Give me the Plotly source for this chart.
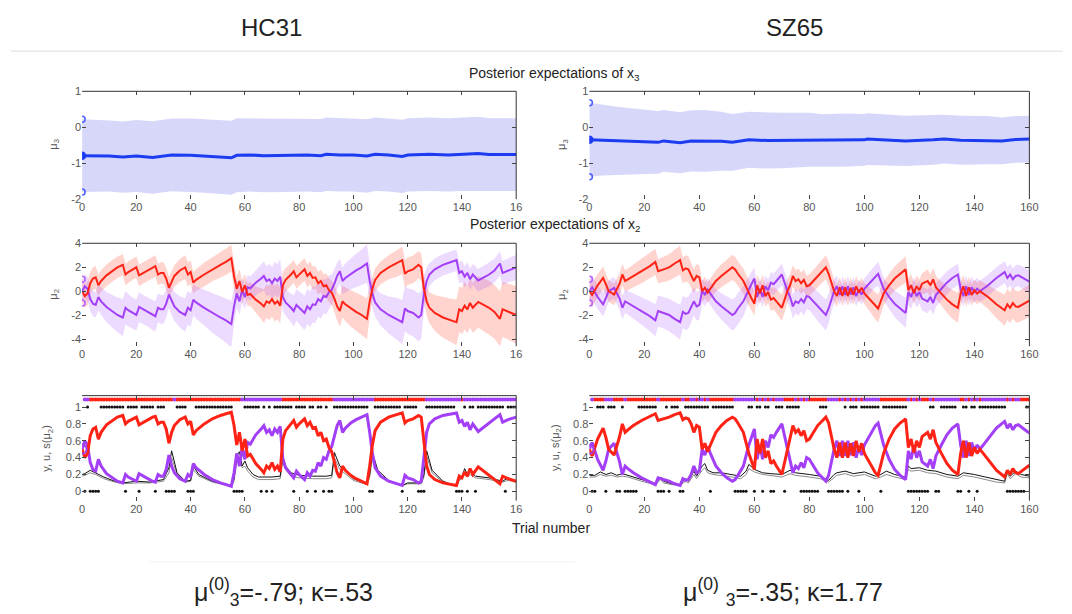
import plotly.graph_objects as go

# ---------------- data ----------------
trials = list(range(1, 161))
x_tickvals = [0, 20, 40, 60, 80, 100, 120, 140, 160]
x_ticktext_hc = ['0', '20', '40', '60', '80', '100', '120', '140', '16']
x_ticktext_sz = ['0', '20', '40', '60', '80', '100', '120', '140', '160']

# ---- HC31: level 3 ----
hc_mu3_t = [0, 5, 10, 15, 20, 26, 30, 33, 40, 45, 50, 55, 57, 62, 67, 75, 83, 88, 90, 95,
            100, 105, 108, 113, 118, 120, 128, 135, 140, 146, 150, 155, 160]
hc_mu3 = [-0.79, -0.79, -0.80, -0.83, -0.80, -0.84, -0.80, -0.77, -0.78, -0.80,
          -0.82, -0.85, -0.78, -0.77, -0.79, -0.78, -0.77, -0.79, -0.75, -0.77,
          -0.77, -0.80, -0.75, -0.77, -0.81, -0.77, -0.75, -0.77, -0.75, -0.73,
          -0.76, -0.76, -0.76]
hc_sd3 = [1.01, 1.00, 0.99, 0.99, 1.00, 1.01, 1.01, 1.01, 1.02, 1.02,
          1.02, 1.03, 1.03, 1.02, 1.02, 1.02, 1.02, 1.02, 1.02, 1.02,
          1.02, 1.02, 1.02, 1.02, 1.02, 1.02, 1.02, 1.02, 1.02, 1.02,
          1.01, 1.01, 1.01]

# ---- HC31: level 2 and s(mu2) ----
hc_t = [0, 1, 2, 3, 4, 5, 6, 7, 9, 11,
        13, 15, 16, 17, 19, 20, 21, 22, 24, 26,
        27, 28, 29, 30, 31, 32, 33, 34, 36, 38,
        39, 40, 41, 42, 45, 48, 51, 53, 55, 56,
        57, 58, 59, 60, 61, 62, 64, 66, 67, 68,
        69, 70, 71, 72, 73, 74, 75, 77, 78, 79,
        80, 82, 83, 84, 85, 86, 87, 88, 89, 90,
        91, 92, 93, 94, 95, 96, 97, 99, 101, 103,
        105, 106, 107, 108, 110, 113, 116, 118, 119, 120,
        122, 124, 125, 126, 127, 128, 130, 133, 136, 138,
        139, 140, 141, 142, 143, 144, 146, 148, 150, 152,
        154, 155, 157, 160]
hc_s_red = [.50, .40, .45, .66, .74, .76, .62, .70, .79, .84,
            .88, .90, .80, .83, .87, .88, .79, .81, .85, .88,
            .89, .80, .82, .82, .74, .57, .70, .78, .85, .88,
            .80, .83, .67, .72, .80, .86, .90, .92, .94, .78,
            .55, .70, .48, .62, .42, .44, .33, .26, .22, .30,
            .27, .34, .26, .30, .23, .62, .72, .80, .84, .76,
            .80, .86, .78, .82, .75, .76, .66, .70, .60, .62,
            .52, .47, .35, .22, .16, .30, .25, .19, .15, .12,
            .09, .30, .55, .72, .82, .88, .91, .93, .81, .84,
            .86, .90, .88, .55, .30, .20, .14, .10, .08, .07,
            .18, .16, .23, .18, .27, .20, .29, .24, .20, .15,
            .09, .18, .15, .12]
hc_s_pur = [.50, .60, .55, .34, .26, .24, .38, .30, .21, .16,
            .12, .10, .20, .17, .13, .12, .21, .19, .15, .12,
            .11, .20, .18, .18, .26, .43, .30, .22, .15, .12,
            .20, .17, .33, .28, .20, .14, .10, .08, .06, .22,
            .45, .30, .52, .38, .58, .56, .67, .74, .78, .70,
            .73, .66, .74, .70, .77, .38, .28, .20, .16, .24,
            .20, .14, .22, .18, .25, .24, .34, .30, .40, .38,
            .48, .53, .65, .78, .84, .70, .75, .81, .85, .88,
            .91, .70, .45, .28, .18, .12, .09, .07, .19, .16,
            .14, .10, .12, .45, .70, .80, .86, .90, .92, .93,
            .82, .84, .77, .82, .73, .80, .71, .76, .80, .85,
            .91, .82, .85, .88]
hc_mu_red = [0, -.41, -.20, .66, 1.05, 1.15, .49, .85, 1.32, 1.66,
             1.99, 2.20, 1.39, 1.59, 1.90, 1.99, 1.32, 1.45, 1.73, 1.99,
             2.09, 1.39, 1.52, 1.52, 1.05, .28, .85, 1.27, 1.73, 1.99,
             1.39, 1.59, .71, .94, 1.39, 1.82, 2.20, 2.44, 2.75, 1.27,
             .20, .85, -.08, .49, -.32, -.24, -.71, -1.05, -1.27, -.85,
             -.99, -.66, -1.05, -.85, -1.21, .49, .94, 1.39, 1.66, 1.15,
             1.39, 1.82, 1.27, 1.52, 1.10, 1.15, .66, .85, .41, .49,
             .08, -.12, -.62, -1.27, -1.66, -.85, -1.10, -1.45, -1.73, -1.99,
             -2.31, -.85, .20, .94, 1.52, 1.99, 2.31, 2.59, 1.45, 1.66,
             1.82, 2.20, 1.99, .20, -.85, -1.39, -1.82, -2.20, -2.44, -2.59,
             -1.52, -1.66, -1.21, -1.52, -.99, -1.39, -.90, -1.15, -1.39, -1.73,
             -2.31, -1.52, -1.73, -1.99]
hc_mu_pur = [0, .41, .20, -.66, -1.05, -1.15, -.49, -.85, -1.32, -1.66,
             -1.99, -2.20, -1.39, -1.59, -1.90, -1.99, -1.32, -1.45, -1.73, -1.99,
             -2.09, -1.39, -1.52, -1.52, -1.05, -.28, -.85, -1.27, -1.73, -1.99,
             -1.39, -1.59, -.71, -.94, -1.39, -1.82, -2.20, -2.44, -2.75, -1.27,
             -.20, -.85, .08, -.49, .32, .24, .71, 1.05, 1.27, .85,
             .99, .66, 1.05, .85, 1.21, -.49, -.94, -1.39, -1.66, -1.15,
             -1.39, -1.82, -1.27, -1.52, -1.10, -1.15, -.66, -.85, -.41, -.49,
             -.08, .12, .62, 1.27, 1.66, .85, 1.10, 1.45, 1.73, 1.99,
             2.31, .85, -.20, -.94, -1.52, -1.99, -2.31, -2.59, -1.45, -1.66,
             -1.82, -2.20, -1.99, -.20, .85, 1.39, 1.82, 2.20, 2.44, 2.59,
             1.52, 1.66, 1.21, 1.52, .99, 1.39, .90, 1.15, 1.39, 1.73,
             2.31, 1.52, 1.73, 1.99]
hc_sd_red = [1.0, 1.0, 1.0, .95, .95, .95, .9, .9, .9, .9,
             .9, .9, .9, .9, .9, .9, .9, .9, .9, .9,
             .9, .9, .9, .9, .9, .9, .9, .9, .95, 1.0,
             1.0, 1.0, .9, .9, 1.0, 1.0, 1.05, 1.1, 1.1, 1.1,
             1.0, 1.0, .95, .95, .95, 1.0, 1.1, 1.3, 1.4, 1.4,
             1.45, 1.45, 1.5, 1.5, 1.5, 1.1, 1.0, .95, .95, .95,
             .95, .95, .95, .95, .95, .95, .95, .95, 1.0, 1.0,
             1.0, 1.0, 1.1, 1.2, 1.3, 1.35, 1.4, 1.5, 1.6, 1.65,
             1.7, 1.3, 1.0, .95, .95, 1.0, 1.1, 1.15, 1.15, 1.15,
             1.15, 1.15, 1.15, 1.1, 1.2, 1.3, 1.5, 1.7, 1.8, 1.9,
             1.9, 1.95, 2.0, 2.0, 2.05, 2.1, 2.15, 2.2, 2.25, 2.25,
             2.3, 2.3, 2.35, 2.4]
hc_sd_pur = [1.0, 1.0, 1.0, 1.0, 1.05, 1.05, 1.1, 1.15, 1.25, 1.35,
             1.45, 1.55, 1.4, 1.35, 1.3, 1.3, 1.25, 1.2, 1.2, 1.25,
             1.25, 1.2, 1.2, 1.2, 1.2, 1.1, 1.15, 1.2, 1.3, 1.4,
             1.4, 1.4, 1.3, 1.35, 1.5, 1.65, 1.75, 1.85, 1.95, 1.5,
             1.2, 1.1, 1.0, 1.0, 1.0, 1.0, 1.05, 1.15, 1.2, 1.25,
             1.3, 1.35, 1.4, 1.4, 1.45, 1.2, 1.1, 1.2, 1.3, 1.3,
             1.35, 1.45, 1.45, 1.5, 1.5, 1.5, 1.45, 1.45, 1.45, 1.45,
             1.4, 1.3, 1.2, 1.1, 1.05, 1.1, 1.2, 1.3, 1.4, 1.5,
             1.6, 1.4, 1.2, 1.2, 1.35, 1.55, 1.75, 1.85, 1.9, 1.9,
             1.95, 2.0, 2.0, 1.5, 1.1, .95, .9, .9, .9, .9,
             .9, .9, .9, .9, .9, .9, .95, .95, 1.0, 1.0,
             1.0, 1.0, 1.0, 1.05]

# ---- HC31: learning-rate traces (black and grey) ----
hc_lr_t = [0, 1, 3, 5, 8, 12, 15, 20, 25, 30,
           32, 33, 35, 38, 40, 41, 43, 48, 55, 56,
           57, 58, 59, 60, 61, 63, 65, 70, 73, 74,
           75, 77, 80, 85, 90, 92, 93, 95, 100, 105,
           106, 107, 109, 113, 118, 120, 125, 126, 127, 129,
           133, 138, 139, 140, 141, 142, 143, 145, 150, 155,
           157, 160]
hc_lr_black = [.20, .21, .25, .22, .17, .12, .10, .12, .11, .14,
               .28, .48, .22, .12, .13, .30, .20, .12, .06, .15,
               .42, .47, .30, .36, .28, .20, .17, .17, .18, .42,
               .30, .22, .19, .18, .18, .19, .46, .30, .15, .09,
               .20, .46, .25, .13, .07, .10, .10, .20, .48, .25,
               .12, .06, .15, .17, .27, .20, .24, .18, .16, .12,
               .16, .12]
hc_lr_grey = [.18, .19, .22, .20, .15, .11, .09, .10, .10, .12,
              .22, .40, .20, .11, .12, .26, .18, .11, .06, .12,
              .34, .40, .28, .30, .24, .17, .14, .14, .15, .36,
              .26, .18, .16, .15, .15, .16, .40, .26, .13, .08,
              .17, .40, .22, .12, .07, .09, .09, .17, .42, .22,
              .11, .06, .13, .15, .23, .17, .20, .16, .14, .11,
              .13, .11]

# ---- HC31: inputs (1 = red, 0 = purple) and responses ----
hc_u = [0, 0, 1, 1, 1, 1, 1, 1, 1, 1, 1, 1, 1, 1, 1, 1, 1, 1, 1, 1,
        1, 1, 1, 1, 1, 1, 1, 1, 1, 1, 1, 1, 1, 0, 1, 1, 1, 1, 1, 1,
        1, 1, 1, 1, 1, 1, 1, 1, 1, 1, 1, 1, 1, 1, 1, 1, 1, 1, 0, 0,
        0, 0, 0, 0, 0, 0, 0, 0, 0, 0, 0, 0, 0, 1, 1, 1, 1, 1, 1, 1,
        1, 1, 1, 1, 1, 1, 1, 1, 1, 1, 1, 1, 0, 0, 0, 0, 0, 0, 0, 0,
        0, 0, 0, 0, 0, 0, 0, 1, 1, 1, 1, 1, 1, 1, 1, 1, 1, 1, 1, 1,
        1, 1, 1, 1, 1, 1, 0, 0, 0, 0, 0, 0, 0, 0, 0, 0, 0, 0, 0, 1,
        0, 0, 0, 0, 0, 0, 0, 0, 0, 0, 0, 0, 0, 0, 0, 0, 0, 0, 0, 0]
hc_y = [0, 1, 0, 0, 0, 0, 1, 1, 1, 1, 1, 1, 1, 1, 1, 0, 1, 1, 1, 1,
        0, 1, 1, 1, 1, 1, 0, 1, 1, 1, 0, 0, 0, 0, 1, 1, 1, 1, 0, 0,
        0, 1, 1, 1, 1, 1, 1, 1, 1, 1, 1, 1, 1, 1, 1, 0, 0, 0, 0, 1,
        1, 1, 1, 1, 1, 0, 1, 0, 1, 0, 1, 1, 1, 1, 1, 1, 1, 0, 1, 1,
        1, 1, 0, 1, 1, 0, 1, 1, 0, 1, 0, 0, 1, 1, 1, 1, 1, 1, 1, 1,
        1, 1, 1, 1, 1, 0, 0, 1, 1, 1, 1, 1, 1, 1, 1, 1, 1, 0, 1, 1,
        1, 1, 1, 0, 0, 0, 1, 1, 1, 1, 1, 1, 1, 1, 1, 1, 1, 0, 0, 0,
        1, 0, 1, 1, 0, 1, 1, 1, 1, 1, 1, 1, 1, 1, 1, 0, 1, 1, 1, 1]

# ---- SZ65: level 3 ----
sz_mu3_t = [0, 5, 10, 15, 20, 25, 27, 33, 37, 42, 48, 52, 58, 65, 70, 80, 85, 92, 100, 101,
            108, 115, 125, 129, 135, 140, 145, 150, 155, 160]
sz_mu3 = [-0.35, -0.36, -0.38, -0.39, -0.41, -0.42, -0.38, -0.43, -0.38, -0.38,
          -0.39, -0.42, -0.35, -0.37, -0.37, -0.35, -0.37, -0.36, -0.35, -0.33,
          -0.35, -0.38, -0.35, -0.33, -0.36, -0.36, -0.36, -0.38, -0.34, -0.33]
sz_sd3 = [1.03, 0.98, 0.95, 0.92, 0.89, 0.87, 0.86, 0.85, 0.85, 0.86,
          0.82, 0.79, 0.78, 0.78, 0.77, 0.75, 0.73, 0.74, 0.72, 0.72,
          0.71, 0.70, 0.69, 0.68, 0.68, 0.68, 0.67, 0.65, 0.65, 0.65]

# ---- SZ65: level 2 and s(mu2) ----
sz_t = [0, 1, 3, 5, 6, 7, 9, 11, 12, 13,
        14, 16, 19, 22, 24, 25, 27, 29, 31, 33,
        34, 35, 36, 37, 38, 39, 40, 41, 42, 43,
        44, 46, 48, 50, 52, 53, 54, 56, 58, 59,
        60, 61, 62, 63, 64, 65, 66, 67, 68, 70,
        72, 73, 74, 75, 76, 77, 78, 79, 80, 83,
        86, 87, 88, 89, 90, 91, 92, 93, 94, 95,
        96, 97, 98, 99, 100, 102, 104, 105, 107, 109,
        111, 113, 115, 116, 117, 118, 119, 120, 121, 123,
        124, 125, 126, 128, 130, 132, 134, 135, 136, 137,
        138, 139, 140, 141, 142, 143, 145, 148, 151, 152,
        153, 154, 155, 156, 158, 160]
sz_s_red = [.50, .42, .62, .75, .64, .50, .43, .65, .80, .70,
            .73, .78, .84, .89, .92, .84, .86, .88, .91, .93,
            .85, .87, .86, .80, .70, .78, .76, .50, .57, .47,
            .55, .70, .78, .84, .88, .86, .81, .70, .45, .35,
            .26, .62, .45, .62, .40, .48, .33, .36, .30, .20,
            .50, .62, .78, .70, .73, .66, .72, .60, .62, .78,
            .88, .81, .65, .50, .40, .58, .40, .58, .40, .57,
            .42, .60, .47, .57, .45, .33, .22, .19, .45, .62,
            .74, .81, .86, .52, .62, .46, .60, .52, .65, .70,
            .62, .73, .58, .45, .33, .25, .20, .45, .60, .40,
            .58, .42, .52, .45, .50, .46, .38, .25, .17, .25,
            .20, .27, .22, .21, .26, .31]
sz_s_pur = [.50, .58, .38, .25, .36, .50, .57, .35, .20, .30,
            .27, .22, .16, .11, .08, .16, .14, .12, .09, .07,
            .15, .13, .14, .20, .30, .22, .24, .50, .43, .53,
            .45, .30, .22, .16, .12, .14, .19, .30, .55, .65,
            .74, .38, .55, .38, .60, .52, .67, .64, .70, .80,
            .50, .38, .22, .30, .27, .34, .28, .40, .38, .22,
            .12, .19, .35, .50, .60, .42, .60, .42, .60, .43,
            .58, .40, .53, .43, .55, .67, .78, .81, .55, .38,
            .26, .19, .14, .48, .38, .54, .40, .48, .35, .30,
            .38, .27, .42, .55, .67, .75, .80, .55, .40, .60,
            .42, .58, .48, .55, .50, .54, .62, .75, .83, .75,
            .80, .73, .78, .79, .74, .69]
sz_mu_red = [0, -.32, .49, 1.10, .58, 0, -.28, .62, 1.39, .85,
             .99, 1.27, 1.66, 2.09, 2.44, 1.66, 1.82, 1.99, 2.31, 2.59,
             1.73, 1.90, 1.82, 1.39, .85, 1.27, 1.15, 0, .28, -.12,
             .20, .85, 1.27, 1.66, 1.99, 1.82, 1.45, .85, -.20, -.62,
             -1.05, .49, -.20, .49, -.41, -.08, -.71, -.58, -.85, -1.39,
             0, .49, 1.27, .85, .99, .66, .94, .41, .49, 1.27,
             1.99, 1.45, .62, 0, -.41, .32, -.41, .32, -.41, .28,
             -.32, .41, -.12, .28, -.20, -.71, -1.27, -1.45, -.20, .49,
             1.05, 1.45, 1.82, .08, .49, -.16, .41, .08, .62, .85,
             .49, .99, .32, -.20, -.71, -1.10, -1.39, -.20, .41, -.41,
             .32, -.32, .08, -.20, 0, -.16, -.49, -1.10, -1.59, -1.10,
             -1.39, -.99, -1.27, -1.32, -1.05, -.80]
sz_mu_pur = [0, .32, -.49, -1.10, -.58, 0, .28, -.62, -1.39, -.85,
             -.99, -1.27, -1.66, -2.09, -2.44, -1.66, -1.82, -1.99, -2.31, -2.59,
             -1.73, -1.90, -1.82, -1.39, -.85, -1.27, -1.15, 0, -.28, .12,
             -.20, -.85, -1.27, -1.66, -1.99, -1.82, -1.45, -.85, .20, .62,
             1.05, -.49, .20, -.49, .41, .08, .71, .58, .85, 1.39,
             0, -.49, -1.27, -.85, -.99, -.66, -.94, -.41, -.49, -1.27,
             -1.99, -1.45, -.62, 0, .41, -.32, .41, -.32, .41, -.28,
             .32, -.41, .12, -.28, .20, .71, 1.27, 1.45, .20, -.49,
             -1.05, -1.45, -1.82, -.08, -.49, .16, -.41, -.08, -.62, -.85,
             -.49, -.99, -.32, .20, .71, 1.10, 1.39, .20, -.41, .41,
             -.32, .32, -.08, .20, 0, .16, .49, 1.10, 1.59, 1.10,
             1.39, .99, 1.27, 1.32, 1.05, .80]
sz_sd_red = [1.0, 1.0, .95, .95, .9, .9, .9, .9, .9, .9,
             .9, .95, 1.0, 1.05, 1.1, 1.0, 1.05, 1.1, 1.15, 1.2,
             1.1, 1.1, 1.1, 1.05, 1.0, 1.0, 1.0, .9, .9, .85,
             .85, .9, .95, 1.0, 1.05, 1.05, 1.05, 1.05, 1.05, 1.05,
             1.0, .9, .9, .9, .9, .9, .95, .95, 1.0, 1.1,
             1.0, .95, .9, .9, .9, .9, .9, .9, .9, .95,
             1.0, 1.0, 1.0, .95, .9, .85, .85, .85, .85, .85,
             .85, .85, .85, .85, .9, 1.0, 1.1, 1.15, 1.0, .95,
             1.0, 1.05, 1.1, 1.0, .95, .9, .9, .9, .9, .95,
             .95, .95, .95, 1.0, 1.1, 1.2, 1.25, 1.0, .95, .9,
             .9, .9, .9, .9, .9, .9, 1.0, 1.15, 1.3, 1.3,
             1.3, 1.3, 1.3, 1.3, 1.35, 1.35]
sz_sd_pur = [1.0, 1.0, 1.0, 1.0, .95, .9, .9, .95, 1.0, .95,
             1.0, 1.05, 1.15, 1.25, 1.35, 1.3, 1.3, 1.35, 1.4, 1.45,
             1.35, 1.35, 1.35, 1.3, 1.2, 1.2, 1.2, 1.0, 1.0, .95,
             .95, 1.0, 1.1, 1.2, 1.3, 1.3, 1.3, 1.25, 1.1, 1.0,
             .95, .9, .9, .9, .9, .9, .9, .9, .9, .9,
             .9, .95, 1.0, 1.0, 1.05, 1.05, 1.1, 1.1, 1.1, 1.2,
             1.3, 1.25, 1.1, 1.0, .9, .85, .85, .85, .85, .85,
             .85, .85, .85, .85, .85, .9, .95, 1.0, .95, 1.0,
             1.1, 1.2, 1.25, 1.1, 1.0, .95, .95, .95, 1.0, 1.0,
             1.0, 1.0, 1.0, .95, .95, .9, .9, .9, .9, .9,
             .9, .9, .9, .9, .9, .9, .9, .9, .9, .9,
             .9, .9, .9, .9, .9, .95]

# ---- SZ65: learning-rate traces ----
sz_lr_t = [0, 2, 4, 6, 8, 10, 12, 14, 16, 20,
           24, 26, 27, 30, 33, 35, 36, 38, 39, 41,
           42, 43, 45, 48, 52, 55, 57, 58, 60, 63,
           66, 70, 73, 75, 80, 84, 87, 89, 90, 93,
           96, 100, 104, 106, 108, 111, 115, 116, 117, 120,
           123, 126, 130, 134, 136, 140, 144, 148, 151, 152,
           153, 155, 157, 160]
sz_lr_black = [.19, .19, .23, .20, .22, .19, .21, .19, .17, .13,
               .09, .17, .12, .09, .08, .15, .12, .24, .18, .30,
               .33, .25, .22, .22, .20, .18, .24, .32, .26, .22,
               .21, .20, .25, .22, .20, .18, .13, .20, .22, .24,
               .21, .23, .18, .20, .24, .20, .17, .30, .27, .28,
               .25, .24, .20, .18, .22, .20, .17, .14, .12, .25,
               .18, .24, .20, .18]
sz_lr_grey = [.17, .17, .20, .18, .19, .17, .18, .17, .15, .11,
              .08, .14, .10, .08, .07, .12, .10, .20, .15, .25,
              .28, .22, .20, .19, .17, .15, .20, .27, .23, .20,
              .19, .17, .21, .19, .17, .15, .11, .17, .19, .21,
              .18, .20, .15, .17, .20, .17, .14, .26, .24, .25,
              .22, .21, .17, .15, .19, .17, .14, .11, .10, .21,
              .15, .21, .17, .16]

# ---- SZ65: inputs and responses ----
sz_u = [0, 1, 1, 1, 1, 0, 0, 0, 1, 1, 1, 1, 0, 1, 1, 1, 1, 1, 1, 1,
        1, 1, 1, 1, 0, 1, 1, 1, 1, 1, 1, 1, 1, 0, 1, 1, 0, 0, 1, 0,
        0, 1, 0, 1, 1, 1, 1, 1, 1, 1, 1, 1, 0, 0, 0, 0, 0, 0, 0, 0,
        1, 0, 1, 0, 1, 0, 1, 0, 0, 0, 1, 1, 1, 1, 0, 1, 0, 1, 0, 1,
        1, 1, 1, 1, 1, 1, 0, 0, 0, 0, 1, 0, 1, 0, 1, 0, 1, 0, 1, 0,
        0, 0, 0, 0, 0, 1, 1, 1, 1, 1, 1, 1, 1, 1, 1, 0, 1, 0, 1, 0,
        1, 1, 1, 0, 1, 0, 0, 0, 0, 0, 0, 0, 0, 0, 1, 1, 0, 1, 0, 1,
        0, 1, 0, 0, 0, 0, 0, 0, 0, 0, 0, 1, 0, 1, 0, 0, 1, 1, 1, 1]
sz_y = [0, 0, 1, 1, 1, 0, 1, 1, 1, 0, 0, 1, 0, 0, 0, 0, 0, 1, 1, 1,
        1, 1, 1, 1, 0, 0, 0, 1, 0, 1, 1, 1, 0, 0, 1, 1, 1, 1, 1, 1,
        1, 1, 1, 0, 1, 1, 1, 1, 1, 1, 1, 1, 0, 0, 0, 0, 0, 1, 1, 0,
        1, 1, 0, 1, 1, 0, 0, 1, 1, 1, 0, 1, 1, 1, 1, 1, 0, 0, 0, 0,
        0, 0, 0, 1, 1, 1, 0, 0, 0, 0, 0, 0, 1, 0, 1, 1, 1, 0, 1, 1,
        1, 1, 1, 1, 1, 0, 1, 1, 1, 1, 1, 1, 1, 1, 1, 0, 0, 0, 0, 0,
        0, 0, 0, 1, 1, 0, 0, 1, 1, 1, 1, 1, 1, 0, 0, 1, 1, 0, 1, 1,
        0, 1, 1, 1, 1, 1, 1, 1, 1, 1, 1, 0, 0, 0, 0, 0, 0, 0, 1, 1]

# ---------------- styling ----------------
W, H = 1072, 614
FONT = "Liberation Sans, Arial, Helvetica, sans-serif"
RED = "#ff2316"
PURPLE = "#a23ff7"
BLUE = "#1d3cf2"
RED_BAND = "rgba(255, 70, 50, 0.24)"
PUR_BAND = "rgba(170, 80, 255, 0.21)"
BLUE_BAND = "#d7d7fa"
TICK_COLOR = "#555555"


def xd(a, b):
    return [a / W, b / W]


def yd(top, bottom):
    return [1 - bottom / H, 1 - top / H]


col_dom = [xd(80, 519), xd(593, 1038)]
row_dom = [yd(87, 197), yd(242, 347), yd(397.4, 504.5)]
y_ranges = [[-2, 1], [-4.6, 4], [-0.11, 1.135]]
y_tickvals = [[-2, -1, 0, 1], [-4, -2, 0, 2, 4], [0, 0.2, 0.4, 0.6, 0.8, 1]]
y_ticktext = [['-2', '-1', '0', '1'], ['-4', '-2', '0', '2', '4'],
              ['0', '0.2', '0.4', '0.6', '0.8', '1']]

fig = go.Figure()
layout = dict(
    width=W, height=H, margin=dict(l=0, r=0, t=0, b=0),
    paper_bgcolor="white", plot_bgcolor="white", showlegend=False,
    font=dict(family=FONT, color="#333", size=11),
)
shapes = []


def ax_names(col, row):
    idx = col * 3 + row + 1
    return ("x" if idx == 1 else f"x{idx}"), ("y" if idx == 1 else f"y{idx}"), idx


for col in range(2):
    for row in range(3):
        xn, yn, idx = ax_names(col, row)
        suffix = "" if idx == 1 else str(idx)
        layout["xaxis" + suffix] = dict(
            domain=col_dom[col], anchor=yn, range=[0, 160],
            tickvals=x_tickvals,
            ticktext=x_ticktext_hc if col == 0 else x_ticktext_sz,
            ticks="inside", ticklen=4, tickcolor="#444", mirror="ticks",
            showline=False, zeroline=False, showgrid=False,
            tickfont=dict(size=11, color=TICK_COLOR, family=FONT),
        )
        layout["yaxis" + suffix] = dict(
            domain=row_dom[row], anchor=xn, range=y_ranges[row],
            tickvals=y_tickvals[row], ticktext=y_ticktext[row],
            ticks="inside", ticklen=4, tickcolor="#444", mirror="ticks",
            showline=False, zeroline=False, showgrid=False,
            tickfont=dict(size=11, color=TICK_COLOR, family=FONT),
        )
        # top and right borders of the box
        shapes.append(dict(type="line", xref=f"{xn} domain", yref=f"{yn} domain",
                           x0=0, x1=1, y0=1, y1=1, line=dict(color="#333", width=1)))
        shapes.append(dict(type="line", xref=f"{xn} domain", yref=f"{yn} domain",
                           x0=1, x1=1, y0=0, y1=1, line=dict(color="#333", width=1)))


def band(xn, yn, t, mu, sd, color):
    upper = [m + s for m, s in zip(mu, sd)]
    lower = [m - s for m, s in zip(mu, sd)]
    fig.add_trace(go.Scatter(
        x=list(t) + list(t)[::-1], y=upper + lower[::-1], xaxis=xn, yaxis=yn,
        fill="toself", fillcolor=color, line=dict(width=0), mode="lines",
        hoverinfo="skip"))


def line(xn, yn, t, v, color, width):
    fig.add_trace(go.Scatter(x=t, y=v, xaxis=xn, yaxis=yn, mode="lines",
                             line=dict(color=color, width=width), hoverinfo="skip"))


def marker(xn, yn, xs, ys, color, size, filled=False, lw=1.5):
    fig.add_trace(go.Scatter(
        x=xs, y=ys, xaxis=xn, yaxis=yn, mode="markers",
        marker=dict(size=size, color=color if filled else "rgba(0,0,0,0)",
                    line=dict(color=color, width=lw)), hoverinfo="skip"))


subjects = [
    dict(mu3_t=hc_mu3_t, mu3=hc_mu3, sd3=hc_sd3, t=hc_t,
         mu_red=hc_mu_red, mu_pur=hc_mu_pur, sd_red=hc_sd_red, sd_pur=hc_sd_pur,
         s_red=hc_s_red, s_pur=hc_s_pur, lr_t=hc_lr_t, lr_black=hc_lr_black,
         lr_grey=hc_lr_grey, u=hc_u, y=hc_y),
    dict(mu3_t=sz_mu3_t, mu3=sz_mu3, sd3=sz_sd3, t=sz_t,
         mu_red=sz_mu_red, mu_pur=sz_mu_pur, sd_red=sz_sd_red, sd_pur=sz_sd_pur,
         s_red=sz_s_red, s_pur=sz_s_pur, lr_t=sz_lr_t, lr_black=sz_lr_black,
         lr_grey=sz_lr_grey, u=sz_u, y=sz_y),
]

for col, d in enumerate(subjects):
    # --- level 3 ---
    xn, yn, _ = ax_names(col, 0)
    band(xn, yn, d["mu3_t"], d["mu3"], d["sd3"], BLUE_BAND)
    line(xn, yn, d["mu3_t"], d["mu3"], BLUE, 3)
    marker(xn, yn, [0], [d["mu3"][0]], BLUE, 7, filled=True)
    marker(xn, yn, [0, 0], [d["mu3"][0] + d["sd3"][0], d["mu3"][0] - d["sd3"][0]],
           "#4a5cff", 6)

    # --- level 2 ---
    xn, yn, _ = ax_names(col, 1)
    band(xn, yn, d["t"], d["mu_red"], d["sd_red"], RED_BAND)
    band(xn, yn, d["t"], d["mu_pur"], d["sd_pur"], PUR_BAND)
    line(xn, yn, d["t"], d["mu_pur"], PURPLE, 2)
    line(xn, yn, d["t"], d["mu_red"], RED, 2)
    marker(xn, yn, [0, 0], [d["mu_pur"][0] + d["sd_pur"][0], d["mu_pur"][0] - d["sd_pur"][0]],
           "#b45cff", 6)

    # --- level 1: s(mu2), inputs, responses ---
    xn, yn, _ = ax_names(col, 2)
    line(xn, yn, d["lr_t"], d["lr_grey"], "#8a8a8a", 1)
    line(xn, yn, d["lr_t"], d["lr_black"], "#111111", 1)
    line(xn, yn, d["t"], d["s_pur"], PURPLE, 3)
    line(xn, yn, d["t"], d["s_red"], RED, 3)
    red_x = [tr for tr, uu in zip(trials, d["u"]) if uu == 1]
    pur_x = [tr for tr, uu in zip(trials, d["u"]) if uu == 0]
    fig.add_trace(go.Scatter(x=red_x, y=[1.09] * len(red_x), xaxis=xn, yaxis=yn,
                             mode="markers", marker=dict(size=4, color=RED),
                             hoverinfo="skip"))
    fig.add_trace(go.Scatter(x=pur_x, y=[1.09] * len(pur_x), xaxis=xn, yaxis=yn,
                             mode="markers", marker=dict(size=4, color=PURPLE),
                             hoverinfo="skip"))
    fig.add_trace(go.Scatter(x=trials, y=d["y"], xaxis=xn, yaxis=yn, mode="markers",
                             marker=dict(size=3, color="#111"), hoverinfo="skip"))
    marker(xn, yn, [0], [d["s_pur"][0]], PURPLE, 9, lw=2)

# ---------------- text ----------------
ann = []


def text(x, y, s, size, color="#222", angle=0):
    ann.append(dict(x=x / W, y=1 - y / H, xref="paper", yref="paper", text=s,
                    showarrow=False, textangle=angle, xanchor="center", yanchor="middle",
                    font=dict(size=size, color=color, family=FONT)))


text(272, 22, "HC31", 24)
text(800, 22, "SZ65", 24)
text(558, 69, "Posterior expectations of x<sub>3</sub>", 14)
text(558, 223, "Posterior expectations of x<sub>2</sub>", 14)
text(554, 532, "Trial number", 14)
text(284, 598, "μ<sup>(0)</sup><sub>3</sub>=-.79; κ=.53", 25)
text(789, 598, "μ<sup>(0)</sup> <sub>3</sub>=-.35; κ=1.77", 25)
for xpos in (52, 566):
    text(xpos, 141, "μ<sub>3</sub>", 11, TICK_COLOR, -90)
    text(xpos, 294, "μ<sub>2</sub>", 11, TICK_COLOR, -90)
for xpos in (45, 559):
    text(xpos, 451, "y, u, s(μ<sub>2</sub>)", 11, TICK_COLOR, -90)

shapes.append(dict(type="line", xref="paper", yref="paper", x0=8 / W, x1=1,
                   y0=1 - 46 / H, y1=1 - 46 / H, line=dict(color="#dcdcdc", width=1)))
shapes.append(dict(type="line", xref="paper", yref="paper", x0=148 / W, x1=578 / W,
                   y0=1 - 567 / H, y1=1 - 567 / H, line=dict(color="#f2f2f2", width=1)))

layout["annotations"] = ann
layout["shapes"] = shapes
fig.update_layout(**layout)
fig.write_html("out.html",
               config={"displayModeBar": False, "staticPlot": True},
               post_script="document.body.style.margin='0';"
                           "document.body.style.padding='0';"
                           "document.body.style.overflow='hidden';")
